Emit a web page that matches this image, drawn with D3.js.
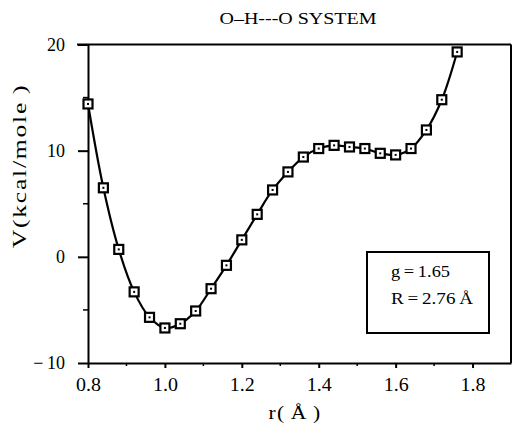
<!DOCTYPE html>
<html>
<head>
<meta charset="utf-8">
<script src="https://cdn.jsdelivr.net/npm/d3@7"></script>
<style>
  html, body { margin: 0; padding: 0; background: #fff; }
  svg { display: block; }
  svg text { font-family: "Liberation Serif", "DejaVu Serif", serif !important; fill: #000; }
</style>
</head>
<body>
<svg id="chart" width="514" height="423"></svg>
<script>
// ---- data ----
const rValues = [0.80, 0.84, 0.88, 0.92, 0.96, 1.00, 1.04, 1.08, 1.12, 1.16, 1.20, 1.24, 1.28,
                 1.32, 1.36, 1.40, 1.44, 1.48, 1.52, 1.56, 1.60, 1.64, 1.68, 1.72, 1.76];
const vValues = [14.4, 6.5, 0.7, -3.3, -5.7, -6.7, -6.3, -5.1, -3.0, -0.8, 1.6, 4.0, 6.3,
                 8.0, 9.4, 10.2, 10.5, 10.35, 10.2, 9.75, 9.6, 10.2, 11.95, 14.8, 19.3];
const xTicks = [0.8, 1.0, 1.2, 1.4, 1.6, 1.8];
const xMinorTicks = [0.9, 1.1, 1.3, 1.5, 1.7];
const yTicks = [-10, 0, 10, 20];
const yMinorTicks = [-5, 5, 15];
const titleText = "O\u2013H---O SYSTEM";
const xLabel = "r(\u2009\u00C5\u2009)";
const yLabel = "V(kcal/mole\u2009)";
const legendLines = ["g\u2009=\u20091.65", "R\u2009=\u20092.76\u2009\u00C5"];

// ---- layout ----
const svg = d3.select("#chart");
const x = d3.scaleLinear().domain([0.8, 1.9]).range([88, 511]);
const y = d3.scaleLinear().domain([-10, 20]).range([363, 44.5]);
const data = rValues.map((r, i) => ({ r, v: vValues[i] }));
const serif = "Liberation Serif";

// frame: top and right
svg.append("line").attr("x1", 77).attr("x2", x(1.9)).attr("y1", y(20)).attr("y2", y(20))
  .attr("stroke", "#000").attr("stroke-width", 2);
svg.append("line").attr("x1", x(1.9)).attr("x2", x(1.9)).attr("y1", y(20)).attr("y2", y(-10))
  .attr("stroke", "#000").attr("stroke-width", 2);

// x axis
const gx = svg.append("g").attr("transform", `translate(0,${y(-10)})`)
  .call(d3.axisBottom(x).tickValues(xTicks).tickFormat(d3.format(".1f"))
    .tickSizeInner(5).tickSizeOuter(0).tickPadding(10));
gx.attr("font-family", serif);
gx.select(".domain").attr("stroke-width", 2);
gx.selectAll(".tick line").attr("stroke-width", 2);
gx.selectAll(".tick text").attr("font-size", 18)
  .attr("textLength", 25).attr("lengthAdjust", "spacingAndGlyphs");
svg.append("g").selectAll("line").data(xMinorTicks).join("line")
  .attr("x1", d => x(d)).attr("x2", d => x(d))
  .attr("y1", y(-10)).attr("y2", y(-10) + 3)
  .attr("stroke", "#000").attr("stroke-width", 1.5);

// y axis
const gy = svg.append("g").attr("transform", `translate(${x(0.8)},0)`)
  .call(d3.axisLeft(y).tickValues(yTicks)
    .tickFormat(d => d < 0 ? "\u2212" + "\u2009" + Math.abs(d) : d)
    .tickSizeInner(10).tickSizeOuter(0).tickPadding(13));
gy.attr("font-family", serif);
gy.select(".domain").attr("stroke-width", 2);
gy.selectAll(".tick line").attr("stroke-width", 2);
gy.selectAll(".tick text").attr("font-size", 18);
svg.append("g").selectAll("line").data(yMinorTicks).join("line")
  .attr("x1", x(0.8) - 5).attr("x2", x(0.8))
  .attr("y1", d => y(d)).attr("y2", d => y(d))
  .attr("stroke", "#000").attr("stroke-width", 1.5);

// curve
const line = d3.line().x(d => x(d.r)).y(d => y(d.v)).curve(d3.curveCatmullRom.alpha(0.5));
svg.append("path").datum(data).attr("d", line)
  .attr("fill", "none").attr("stroke", "#000").attr("stroke-width", 2.2);

// markers
const m = svg.append("g").selectAll("g").data(data).join("g")
  .attr("transform", d => `translate(${x(d.r)},${y(d.v)})`);
m.append("rect").attr("x", -4.5).attr("y", -4.5).attr("width", 9).attr("height", 9)
  .attr("fill", "#fff").attr("stroke", "#000").attr("stroke-width", 2.2);
m.append("rect").attr("x", -1).attr("y", -1).attr("width", 2).attr("height", 2).attr("fill", "#000");

// title
svg.append("text").attr("x", 298).attr("y", 24).attr("text-anchor", "middle")
  .attr("font-family", serif).attr("font-size", 17)
  .attr("textLength", 157).attr("lengthAdjust", "spacingAndGlyphs")
  .text(titleText);

// axis labels
svg.append("text").attr("transform", "translate(295,419) scale(1.2,1)").attr("text-anchor", "middle")
  .attr("font-family", serif).attr("font-size", 18).attr("letter-spacing", 1).text(xLabel);
svg.append("text").attr("transform", "translate(26,166) rotate(-90) scale(1.35,1)").attr("text-anchor", "middle")
  .attr("font-family", serif).attr("font-size", 19).attr("letter-spacing", 1.3).text(yLabel);

// legend box
svg.append("rect").attr("x", 367).attr("y", 252).attr("width", 122).attr("height", 81)
  .attr("fill", "#fff").attr("stroke", "#000").attr("stroke-width", 2);
svg.append("g").selectAll("text").data(legendLines).join("text")
  .attr("x", 391).attr("y", (d, i) => 277 + i * 27)
  .attr("font-family", serif).attr("font-size", 17)
  .attr("textLength", (d, i) => i === 0 ? 59 : 82).attr("lengthAdjust", "spacingAndGlyphs")
  .text(d => d);
</script>
</body>
</html>
